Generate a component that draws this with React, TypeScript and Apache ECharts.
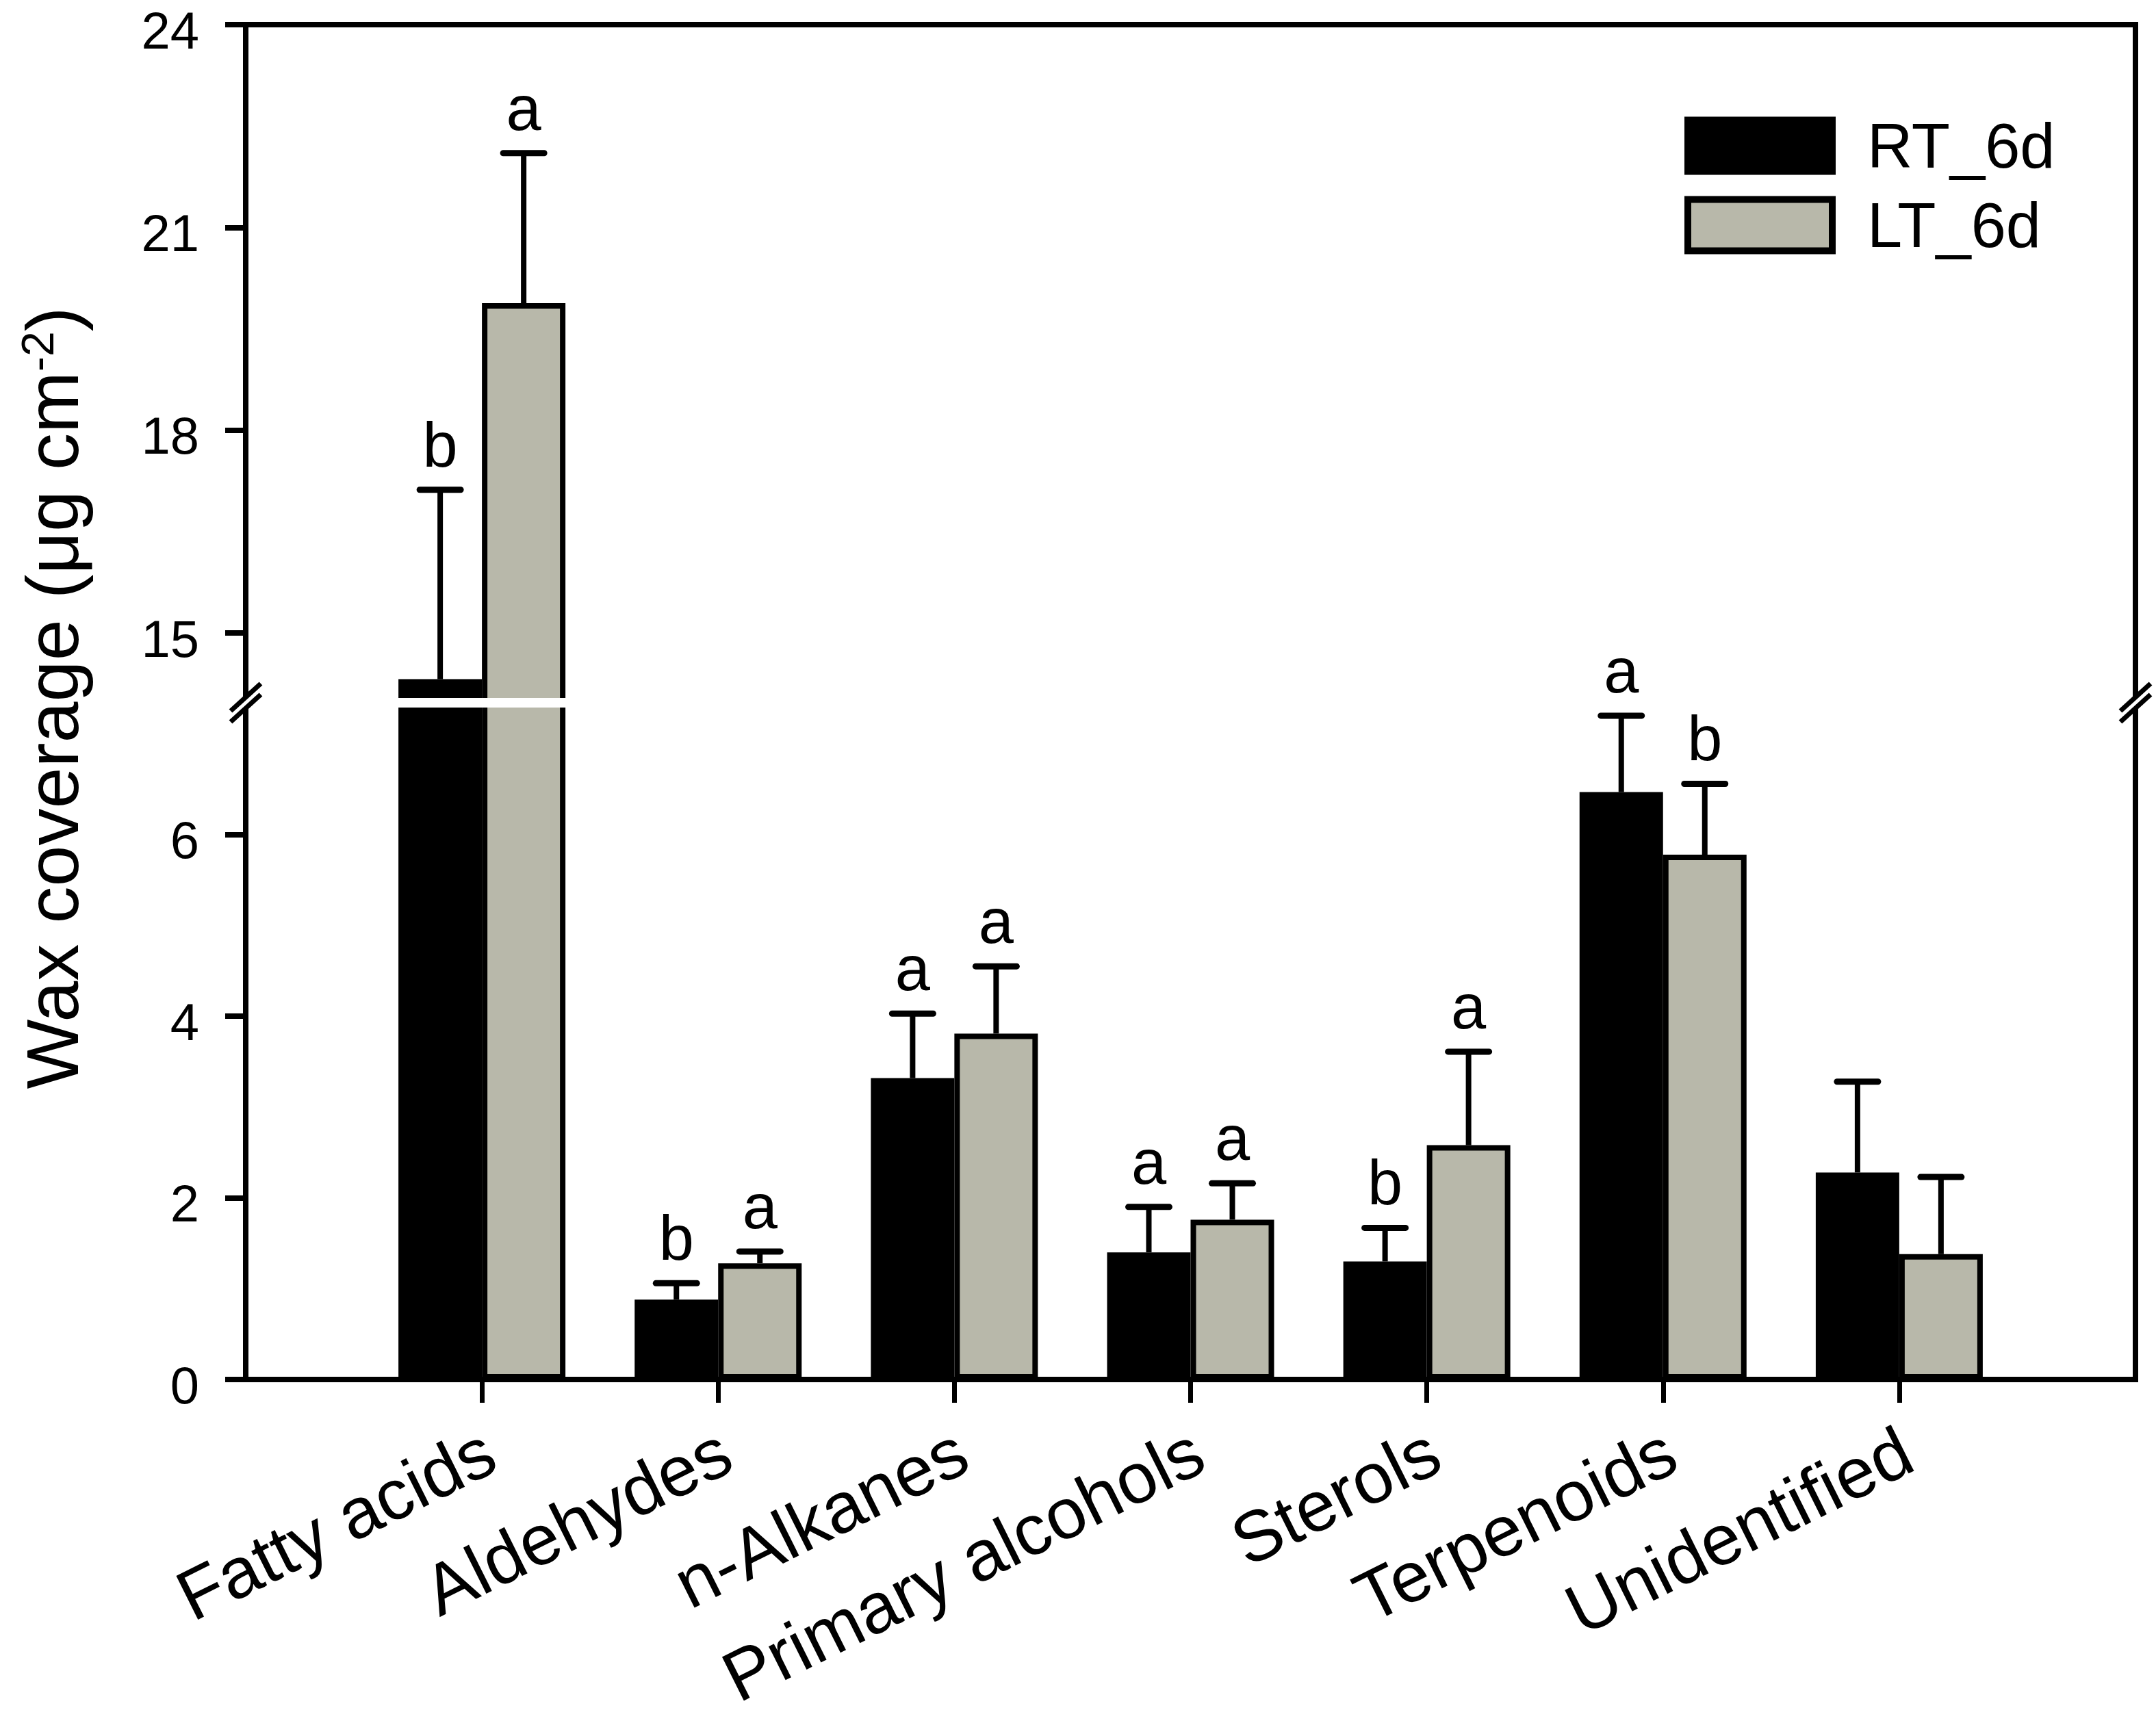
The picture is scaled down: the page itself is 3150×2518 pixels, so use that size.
import React, { useEffect, useRef } from 'react';
import * as echarts from 'echarts';

const categories = ['Fatty acids', 'Aldehydes', 'n-Alkanes', 'Primary alcohols', 'Sterols', 'Terpenoids', 'Unidentified'];
const seriesNames = ['RT_6d', 'LT_6d'];
const rtMeans = [14.32, 0.88, 3.32, 1.4, 1.3, 6.47, 2.28];
const rtErrors = [2.8, 0.18, 0.71, 0.5, 0.37, 0.84, 1.0];
const ltMeans = [19.88, 1.28, 3.81, 1.76, 2.58, 5.78, 1.38];
const ltErrors = [2.22, 0.13, 0.74, 0.4, 1.03, 0.78, 0.85];
const rtLetters = ['b', 'b', 'a', 'a', 'b', 'a', ''];
const ltLetters = ['a', 'a', 'a', 'a', 'a', 'b', ''];
const upperTicks = [15, 18, 21, 24];
const lowerTicks = [0, 2, 4, 6];
const upperRange = [14, 24];
const lowerRange = [0, 7.43];

const FONT = '"Liberation Sans", Arial, Helvetica, sans-serif';
const GRAY = '#b8b8aa';
const LEFT = 359;
const RIGHT_X = 3120;
const UP_TOP = 36;
const UP_BOTTOM = 1024;
const LO_TOP = 1030;
const LO_BOTTOM = 2016;
const BAR_W = 122;
const CAP_W = 60;
const LW = 8;

export default function App() {
  const ref = useRef<HTMLDivElement>(null);

  useEffect(() => {
    document.body.style.margin = '0';
    if (!ref.current) return;
    const chart = echarts.init(ref.current, null, { renderer: 'svg' });

    const padded = ['', ...categories, ''];
    const pad = (arr: any[]) => ['-', ...arr, '-'];
    const upperData = (arr: number[]) => pad(arr.map((v) => (v > upperRange[0] ? v : '-')));
    const lowerData = (arr: number[]) => pad(arr.slice());

    const errItems = (upper: boolean) => {
      const items: number[][] = [];
      [rtMeans, ltMeans].forEach((means, s) => {
        const errs = s === 0 ? rtErrors : ltErrors;
        means.forEach((v, i) => {
          const isUpper = v > upperRange[0];
          if (isUpper === upper) items.push([i + 1, v, errs[i], s, i]);
        });
      });
      return items;
    };

    const renderErr = (params: any, api: any) => {
      const cat = api.value(0);
      const v = api.value(1);
      const e = api.value(2);
      const s = api.value(3);
      const idx = api.value(4);
      const p0 = api.coord([cat, v]);
      const p1 = api.coord([cat, v + e]);
      const x = p0[0] + (s === 0 ? -1 : 1) * (BAR_W / 2);
      const letter = (s === 0 ? rtLetters : ltLetters)[idx];
      const children: any[] = [
        { type: 'line', shape: { x1: x, y1: p0[1], x2: x, y2: p1[1] }, style: { stroke: '#000', lineWidth: LW } },
        {
          type: 'line',
          shape: { x1: x - CAP_W / 2, y1: p1[1], x2: x + CAP_W / 2, y2: p1[1] },
          style: { stroke: '#000', lineWidth: 9, lineCap: 'round' },
        },
      ];
      if (letter) {
        children.push({
          type: 'text',
          x: x,
          y: p1[1] - 20,
          style: { text: letter, fontSize: 92, fontFamily: FONT, fill: '#000', align: 'center', verticalAlign: 'bottom' },
        });
      }
      return { type: 'group', children };
    };

    const lineStyle = { color: '#000', width: LW, cap: 'square' as const };

    const slash = (cx: number, cy: number, off: number) => ({
      type: 'line',
      z: 101,
      shape: { x1: cx - 22, y1: cy + off + 20, x2: cx + 22, y2: cy + off - 20 },
      style: { stroke: '#000', lineWidth: 7 },
    });
    const breakY = (UP_BOTTOM + LO_TOP) / 2;

    const yLabel = { fontSize: 76, margin: 68, fontFamily: FONT, color: '#000', verticalAlign: 'top', lineHeight: 16 };

    const option: any = {
      animation: false,
      backgroundColor: '#fff',
      textStyle: { fontFamily: FONT, color: '#000' },
      grid: [
        { left: LEFT, top: UP_TOP, width: RIGHT_X - LEFT, height: UP_BOTTOM - UP_TOP, containLabel: false, outerBoundsMode: 'none' },
        { left: LEFT, top: LO_TOP, width: RIGHT_X - LEFT, height: LO_BOTTOM - LO_TOP, containLabel: false, outerBoundsMode: 'none' },
      ],
      legend: {
        data: seriesNames,
        orient: 'vertical',
        left: 2461,
        top: 167,
        padding: 0,
        itemWidth: 211,
        itemHeight: 75,
        itemGap: 24,
        icon: 'rect',
        selectedMode: false,
        itemStyle: { borderColor: '#000', borderWidth: 10 },
        textStyle: { fontSize: 92, fontFamily: FONT, color: '#000', padding: [0, 0, 0, 46] },
      },
      xAxis: [
        {
          type: 'category',
          gridIndex: 0,
          data: padded,
          boundaryGap: false,
          position: 'top',
          axisLine: { show: true, onZero: false, lineStyle },
          axisTick: { show: false },
          axisLabel: { show: false },
          splitLine: { show: false },
        },
        {
          type: 'category',
          gridIndex: 1,
          data: padded,
          boundaryGap: false,
          position: 'bottom',
          axisLine: { show: true, onZero: false, lineStyle },
          axisTick: {
            show: true,
            inside: false,
            length: 34,
            interval: (i: number) => i > 0 && i <= categories.length,
            lineStyle: { color: '#000', width: 7 },
          },
          axisLabel: {
            interval: 0,
            rotate: 26.5,
            align: 'right',
            verticalAlign: 'top',
            margin: 46,
            padding: [0, 13, 0, 0],
            fontSize: 104,
            fontFamily: FONT,
            color: '#000',
          },
          splitLine: { show: false },
        },
      ],
      yAxis: [
        {
          type: 'value',
          gridIndex: 0,
          position: 'left',
          min: upperRange[0],
          max: upperRange[1],
          axisLine: { show: true, onZero: false, lineStyle },
          axisTick: { show: true, length: 30, customValues: upperTicks, lineStyle: { color: '#000', width: LW } },
          axisLabel: { ...yLabel, customValues: upperTicks },
          splitLine: { show: false },
        },
        {
          type: 'value',
          gridIndex: 0,
          position: 'right',
          min: upperRange[0],
          max: upperRange[1],
          axisLine: { show: true, onZero: false, lineStyle },
          axisTick: { show: false },
          axisLabel: { show: false },
          splitLine: { show: false },
        },
        {
          type: 'value',
          gridIndex: 1,
          position: 'left',
          min: lowerRange[0],
          max: lowerRange[1],
          axisLine: { show: true, onZero: false, lineStyle },
          axisTick: { show: true, length: 30, customValues: lowerTicks, lineStyle: { color: '#000', width: LW } },
          axisLabel: { ...yLabel, customValues: lowerTicks },
          splitLine: { show: false },
        },
        {
          type: 'value',
          gridIndex: 1,
          position: 'right',
          min: lowerRange[0],
          max: lowerRange[1],
          axisLine: { show: true, onZero: false, lineStyle },
          axisTick: { show: false },
          axisLabel: { show: false },
          splitLine: { show: false },
        },
      ],
      series: [
        {
          type: 'bar', name: seriesNames[0], xAxisIndex: 0, yAxisIndex: 0, data: upperData(rtMeans),
          barWidth: BAR_W, barGap: '0%', clip: true,
          itemStyle: { color: '#000', borderColor: '#000', borderWidth: LW },
        },
        {
          type: 'bar', name: seriesNames[1], xAxisIndex: 0, yAxisIndex: 0, data: upperData(ltMeans),
          barWidth: BAR_W, barGap: '0%', clip: true,
          itemStyle: { color: GRAY, borderColor: '#000', borderWidth: LW },
        },
        {
          type: 'bar', name: seriesNames[0], xAxisIndex: 1, yAxisIndex: 2, data: lowerData(rtMeans),
          barWidth: BAR_W, barGap: '0%', clip: true,
          itemStyle: { color: '#000', borderColor: '#000', borderWidth: LW },
        },
        {
          type: 'bar', name: seriesNames[1], xAxisIndex: 1, yAxisIndex: 2, data: lowerData(ltMeans),
          barWidth: BAR_W, barGap: '0%', clip: true,
          itemStyle: { color: GRAY, borderColor: '#000', borderWidth: LW },
        },
        {
          type: 'custom', name: 'err-upper', xAxisIndex: 0, yAxisIndex: 0, data: errItems(true),
          encode: { x: 0, y: 1 }, renderItem: renderErr, z: 5, clip: false,
        },
        {
          type: 'custom', name: 'err-lower', xAxisIndex: 1, yAxisIndex: 2, data: errItems(false),
          encode: { x: 0, y: 1 }, renderItem: renderErr, z: 5, clip: false,
        },
      ],
      graphic: [
        { type: 'rect', z: 100, shape: { x: 330, y: 1020, width: 2820, height: 14 }, style: { fill: '#fff' } },
        slash(LEFT, breakY, -8),
        slash(LEFT, breakY, 8),
        slash(RIGHT_X, breakY, -8),
        slash(RIGHT_X, breakY, 8),
        {
          type: 'text',
          z: 100,
          x: 76,
          y: 1020,
          rotation: Math.PI / 2,
          style: {
            text: '{a|Wax coverage (μg cm}{b|-2}{a|)}',
            align: 'center',
            verticalAlign: 'middle',
            fill: '#000',
            rich: {
              a: { fontSize: 108, fontFamily: FONT, fill: '#000' },
              b: { fontSize: 66, fontFamily: FONT, fill: '#000', verticalAlign: 'top' },
            },
          },
        },
      ],
    };

    chart.setOption(option);
    return () => chart.dispose();
  }, []);

  return <div ref={ref} style={{ width: 3150, height: 2518 }} />;
}
